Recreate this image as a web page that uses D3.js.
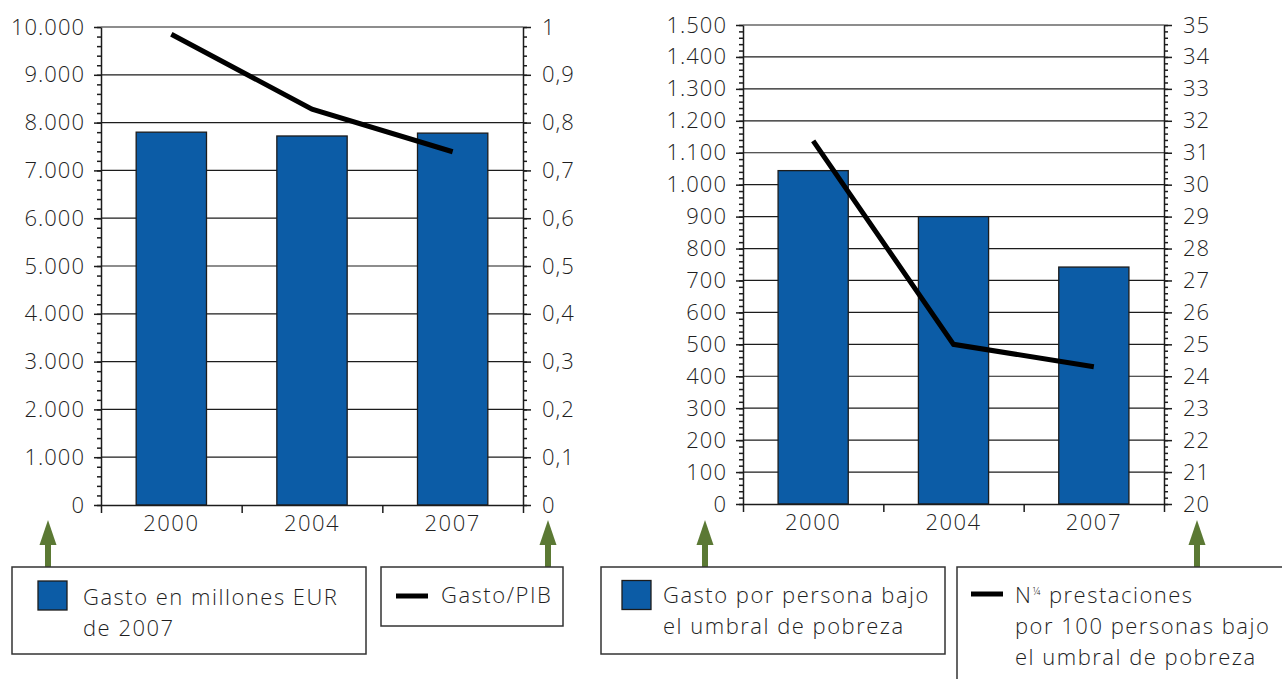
<!DOCTYPE html>
<html>
<head>
<meta charset="utf-8">
<script src="https://cdn.jsdelivr.net/npm/d3@7"></script>
<style>
  body { margin: 0; background: #fff; }
  svg { display: block; }
  text { font-family: "Open Sans", sans-serif; font-weight: 300; fill: #1f1f1f; }
</style>
</head>
<body>
<script>
// data
const years = ['2000', '2004', '2007'];
const gastoMillones = [7800, 7720, 7780];       // left chart bars (millones EUR de 2007)
const gastoPib = [0.985, 0.828, 0.739];         // left chart line (Gasto/PIB)
const gastoPersona = [1044, 900, 742];          // right chart bars
const prestaciones = [31.37, 25.0, 24.3];       // right chart line

const leftTicksA = d3.range(0, 10001, 1000);
const rightTicksA = d3.range(0, 1.0001, 0.1).map(v => +v.toFixed(1));
const leftTicksB = d3.range(0, 1501, 100);
const rightTicksB = d3.range(20, 36, 1);

const es = d3.formatLocale({ decimal: ',', thousands: '.', grouping: [3], currency: ['', ' €'] });

const svg = d3.select('body').append('svg')
    .attr('width', 1282)
    .attr('height', 679);

const BLUE = '#0c5ca6';
const INK = '#1c1c1c';
const GREEN = '#5b7934';
const TXT = '#1f1f1f';

function styleText(a, spacing) {
    a.selectAll('text')
        .attr('font-size', 22)
        .attr('fill', TXT)
        .attr('font-family', null)
        .attr('letter-spacing', spacing);
}

function drawChart(cfg) {
    const g = svg.append('g');

    const x = d3.scaleBand().domain(years)
        .range([cfg.x0, cfg.x1])
        .paddingInner(0.5).paddingOuter(0.25);
    const yL = d3.scaleLinear().domain(cfg.leftDomain).range([cfg.yBottom, cfg.yTop]);
    const yR = d3.scaleLinear().domain(cfg.rightDomain).range([cfg.yBottom, cfg.yTop]);

    // gridlines
    g.append('g')
        .selectAll('line')
        .data(cfg.leftTicks.slice(1))
        .join('line')
        .attr('x1', cfg.x0).attr('x2', cfg.x1)
        .attr('y1', d => yL(d)).attr('y2', d => yL(d))
        .attr('stroke', INK).attr('stroke-width', 1.2);

    // bars
    g.append('g')
        .selectAll('rect')
        .data(cfg.bars)
        .join('rect')
        .attr('x', (d, i) => x(years[i]))
        .attr('y', d => yL(d))
        .attr('width', x.bandwidth())
        .attr('height', d => cfg.yBottom - yL(d))
        .attr('fill', BLUE)
        .attr('stroke', INK).attr('stroke-width', 1.3);

    // minor ticks
    const minorL = d3.range(cfg.leftDomain[0], cfg.leftDomain[1] + 1e-9, cfg.leftMinor);
    const minorR = d3.range(cfg.rightDomain[0], cfg.rightDomain[1] + 1e-9, cfg.rightMinor);
    g.append('g').attr('transform', `translate(${cfg.x0},0)`)
        .call(d3.axisLeft(yL).tickValues(minorL).tickSize(4).tickFormat(''))
        .call(a => a.select('.domain').remove())
        .call(a => a.selectAll('line').attr('stroke', INK).attr('stroke-width', 1.5));
    g.append('g').attr('transform', `translate(${cfg.x1},0)`)
        .call(d3.axisRight(yR).tickValues(minorR).tickSize(4).tickFormat(''))
        .call(a => a.select('.domain').remove())
        .call(a => a.selectAll('line').attr('stroke', INK).attr('stroke-width', 1.5));

    // major axes
    g.append('g').attr('transform', `translate(${cfg.x0},0)`)
        .call(d3.axisLeft(yL).tickValues(cfg.leftTicks).tickSize(7).tickSizeOuter(0).tickPadding(9).tickFormat(cfg.leftFormat))
        .call(a => a.select('.domain').attr('stroke', INK).attr('stroke-width', 1.5))
        .call(a => a.selectAll('line').attr('stroke', INK).attr('stroke-width', 1.5))
        .call(a => styleText(a, 1));
    g.append('g').attr('transform', `translate(${cfg.x1},0)`)
        .call(d3.axisRight(yR).tickValues(cfg.rightTicks).tickSize(8).tickSizeOuter(0).tickPadding(11).tickFormat(cfg.rightFormat))
        .call(a => a.select('.domain').attr('stroke', INK).attr('stroke-width', 1.5))
        .call(a => a.selectAll('line').attr('stroke', INK).attr('stroke-width', 1.5))
        .call(a => styleText(a, 1));

    // x axis: boundary ticks + centred labels
    const xEdges = d3.scaleLinear().domain([0, years.length]).range([cfg.x0, cfg.x1]);
    g.append('g').attr('transform', `translate(0,${cfg.yBottom})`)
        .call(d3.axisBottom(xEdges).tickValues(d3.range(0, years.length + 1)).tickSize(8).tickSizeOuter(0).tickFormat(''))
        .call(a => a.select('.domain').attr('stroke', INK).attr('stroke-width', 1.5))
        .call(a => a.selectAll('line').attr('stroke', INK).attr('stroke-width', 1.5));
    g.append('g').attr('transform', `translate(0,${cfg.yBottom})`)
        .call(d3.axisBottom(x).tickSize(0).tickPadding(10))
        .call(a => a.select('.domain').remove())
        .call(a => styleText(a, 1.5));

    // line
    const line = d3.line()
        .x((d, i) => x(years[i]) + x.bandwidth() / 2)
        .y(d => yR(d));
    g.append('path')
        .datum(cfg.line)
        .attr('d', line)
        .attr('fill', 'none')
        .attr('stroke', '#000')
        .attr('stroke-width', 5);
}

drawChart({
    x0: 101, x1: 523, yTop: 27, yBottom: 505,
    leftDomain: [0, 10000], rightDomain: [0, 1],
    leftTicks: leftTicksA, rightTicks: rightTicksA,
    leftMinor: 200, rightMinor: 0.02,
    leftFormat: es.format(',d'), rightFormat: es.format('.1~f'),
    bars: gastoMillones, line: gastoPib
});

drawChart({
    x0: 743, x1: 1164, yTop: 25, yBottom: 504,
    leftDomain: [0, 1500], rightDomain: [20, 35],
    leftTicks: leftTicksB, rightTicks: rightTicksB,
    leftMinor: 20, rightMinor: 0.2,
    leftFormat: es.format(',d'), rightFormat: es.format('d'),
    bars: gastoPersona, line: prestaciones
});

// green arrows pointing at the axes
function arrow(cx) {
    const a = svg.append('g').attr('fill', GREEN);
    a.append('path').attr('d', `M${cx},520 L${cx - 8.5},545 L${cx + 8.5},545 Z`);
    a.append('rect').attr('x', cx - 3).attr('y', 543).attr('width', 6).attr('height', 24);
}
[48, 548, 705, 1197].forEach(arrow);

// legend boxes
function legendBox(b) {
    const g = svg.append('g');
    g.append('rect')
        .attr('x', b.x).attr('y', b.y).attr('width', b.w).attr('height', b.h)
        .attr('fill', '#fff').attr('stroke', '#333').attr('stroke-width', 1.5);
    if (b.kind === 'bar') {
        g.append('rect')
            .attr('x', b.sx).attr('y', b.sy).attr('width', 29).attr('height', 29)
            .attr('fill', BLUE).attr('stroke', INK).attr('stroke-width', 1.3);
    } else {
        g.append('line')
            .attr('x1', b.sx).attr('x2', b.sx + 32).attr('y1', b.sy).attr('y2', b.sy)
            .attr('stroke', '#000').attr('stroke-width', 5);
    }
    const t = g.append('text').attr('font-size', 22).attr('letter-spacing', 1.5);
    b.lines.forEach((ln, i) => {
        const ts = t.append('tspan').attr('x', b.tx).attr('y', b.ty + i * 31);
        if (ln === 'N¼ prestaciones') {
            ts.text('N');
            ts.append('tspan').attr('font-size', 11).attr('dy', -8).text('¼');
            ts.append('tspan').attr('dy', 8).text(' prestaciones');
        } else {
            ts.text(ln);
        }
    });
}

legendBox({ x: 12, y: 567, w: 354, h: 87, kind: 'bar', sx: 38, sy: 581,
    tx: 83, ty: 605, lines: ['Gasto en millones EUR', 'de 2007'] });
legendBox({ x: 381, y: 567, w: 182, h: 59, kind: 'line', sx: 396, sy: 596,
    tx: 441, ty: 603, lines: ['Gasto/PIB'] });
legendBox({ x: 601, y: 567, w: 344, h: 87, kind: 'bar', sx: 622, sy: 580.5,
    tx: 663, ty: 603, lines: ['Gasto por persona bajo', 'el umbral de pobreza'] });
legendBox({ x: 957, y: 567, w: 340, h: 130, kind: 'line', sx: 971, sy: 594,
    tx: 1015, ty: 603, lines: ['N¼ prestaciones', 'por 100 personas bajo', 'el umbral de pobreza'] });
</script>
</body>
</html>
